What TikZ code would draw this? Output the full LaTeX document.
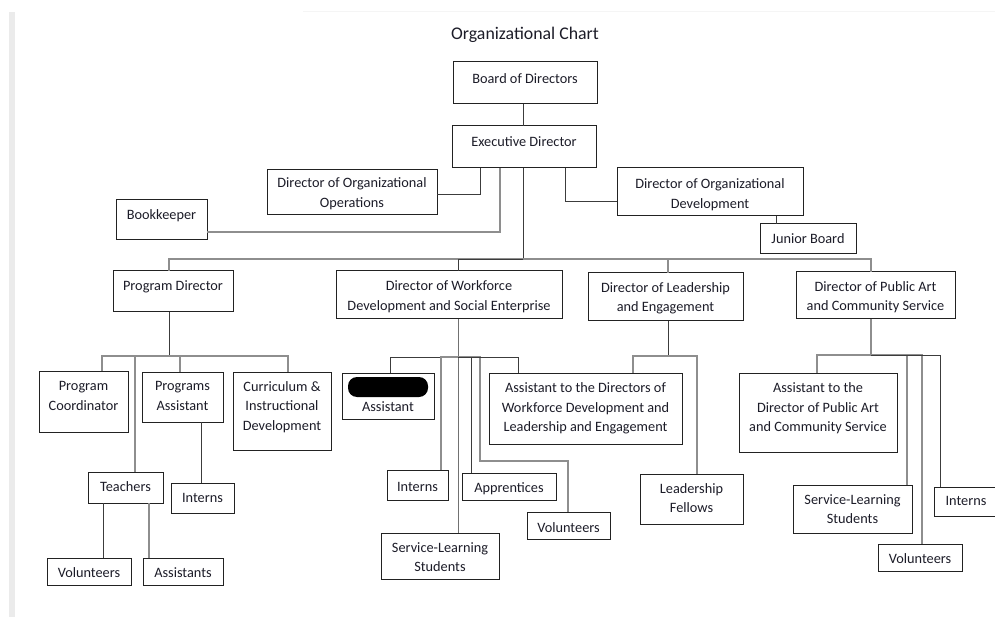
\documentclass[tikz,border=0pt]{standalone}
\usepackage{fontspec}
\setmainfont{Carlito}
\definecolor{txt}{HTML}{1C1C28}
\definecolor{dkline}{HTML}{3C3C3C}
\definecolor{ltline}{HTML}{8E8E8E}
\definecolor{boxline}{HTML}{222222}
\tikzset{
  box/.style={draw=boxline, line width=1pt, inner sep=0pt, outer sep=0pt, rectangle},
  lbl/.style={inner sep=0pt, align=center, text=txt,
              font=\fontsize{14.3}{19.5}\selectfont},
  dk/.style={draw=dkline, line width=0.9pt},
  lt/.style={draw=ltline, line width=1.3pt},
}
\newcommand{\orgbox}[7]{%
  \node[box, minimum width={(#4-#2)*1pt}, minimum height={(#5-#3)*1pt}] (#1) at ({(#2+#4)/2},{(#3+#5)/2}) {};
  \node[lbl] (#1t) at ({(#2+#4)/2},{#6+1}) {\rule{0pt}{10pt}#7\rule[-3pt]{0pt}{3pt}};}
\begin{document}
\begin{tikzpicture}[x=1pt,y=-1pt]
\useasboundingbox (0,0) rectangle (995,617);
\fill[white] (0,0) rectangle (995,617);
\fill[black!8] (9,12) rectangle (15,617);
\draw[black!4, line width=1pt] (303,12) -- (995,12);

\node[font=\fontsize{17.8}{20}\selectfont, text=txt, inner sep=0pt] (title) at (525,35) {Organizational Chart};

% top
\orgbox{bod}{453}{62}{597}{104}{79}{Board of Directors}
\orgbox{exe}{452}{126}{596}{168}{142.5}{Executive Director}
\orgbox{ops}{267}{170}{437}{215}{193}{Director of Organizational\\Operations}
\orgbox{bk}{116}{200}{207}{240}{215}{Bookkeeper}
\orgbox{dod}{617}{168}{803}{216}{194}{Director of Organizational\\Development}
\orgbox{jb}{760}{224}{856}{254}{239}{Junior Board}
% directors
\orgbox{pd}{113}{271}{233}{312}{286}{Program Director}
\orgbox{wf}{336}{271}{562}{319}{296}{Director of Workforce\\Development and Social Enterprise}
\orgbox{le}{588}{273}{743}{321}{297.5}{Director of Leadership\\and Engagement}
\orgbox{pa}{796}{272}{955}{319}{296.5}{Director of Public Art\\and Community Service}
% program director subtree
\orgbox{pc}{39}{371}{128}{432}{396}{Program\\Coordinator}
\orgbox{pas}{142}{372}{223}{422}{396}{Programs\\Assistant}
\orgbox{cid}{233}{372}{331}{450}{406}{Curriculum \&\\Instructional\\Development}
\orgbox{tea}{88}{472}{163}{503}{487}{Teachers}
\orgbox{pin}{171}{483}{234}{513}{498}{Interns}
\orgbox{tvo}{47}{558}{131}{585}{573}{Volunteers}
\orgbox{tas}{143}{558}{223}{585}{573}{Assistants}
% workforce subtree
\orgbox{wa}{342}{373}{434}{419}{407}{Assistant}
\fill[black, rounded corners=9pt] (348,377) rectangle (428,397);
\orgbox{win}{387}{470}{448}{500}{487}{Interns}
\orgbox{wap}{462}{473}{556}{500}{488}{Apprentices}
\orgbox{wvo}{527}{512}{610}{539}{528}{Volunteers}
\orgbox{wsl}{381}{533}{499}{579}{557.5}{Service-Learning\\Students}
\orgbox{atd}{489}{373}{682}{444}{407.5}{Assistant to the Directors of\\Workforce Development and\\Leadership and Engagement}
% leadership subtree
\orgbox{lf}{640}{474}{743}{524}{498.5}{Leadership\\Fellows}
% public art subtree
\orgbox{apa}{739}{373}{897}{452}{407.5}{Assistant to the\\Director of Public Art\\and Community Service}
\orgbox{psl}{793}{485}{912}{533}{509.5}{Service-Learning\\Students}
\orgbox{pvo}{878}{544}{962}{571}{559}{Volunteers}
\orgbox{pin2}{934}{487}{998}{516}{501}{Interns}

% connectors: top
\draw[dk] (bod.south -| 523,0) -- (exe.north -| 523,0);
\draw[dk] (exe.south -| 480,0) |- (ops.east |- 0,194);
\draw[lt] (exe.south -| 500,0) |- (bk.east |- 0,232);
\draw[dk] (exe.south -| 565,0) |- (dod.west |- 0,201);
\draw[dk] (dod.south -| 776,0) -- (jb.north -| 776,0);
\coordinate (hub) at (523,259);
\draw[dk] (exe.south -| 523,0) -- (hub);
\draw[lt] (hub) -| (pd.north -| 169,0);
\draw[lt] (hub) -| (le.north -| 668,0);
\draw[lt] (hub) -| (pa.north -| 871,0);
\draw[dk] (hub) -| (wf.north -| 458,0);

% program director
\coordinate (pdh) at (169,356);
\draw[dk] (pd.south -| 169,0) -- (pdh);
\draw[lt] (pdh) -| (pc.north -| 102,0);
\draw[lt] (pdh) -| (tea.north -| 135,0);
\draw[lt] (pdh) -| (pas.north -| 180,0);
\draw[lt] (pdh) -| (cid.north -| 288,0);
\draw[dk] (pas.south -| 201,0) -- (pin.north -| 201,0);
\draw[dk] (tea.south -| 103,0) -- (tvo.north -| 103,0);
\draw[lt] (tea.south -| 149,0) -- (tas.north -| 149,0);

% workforce
\coordinate (wfh) at (458,357);
\coordinate (wvb) at (480,461);
\draw[ltline!80!black, line width=1pt] (wf.south -| 458,0) -- (wsl.north -| 458,0);
\draw[dk] (wfh) -| (wa.north -| 390,0);
\draw[lt] (wfh) -| (win.north -| 441,0);
\draw[dk] (wfh) -| (wap.north -| 471,0);
\draw[lt] (wfh) -| (wvb) -| (wvo.north -| 568,0);
\draw[dk] (wfh) -| (atd.north -| 518,0);

% leadership
\coordinate (leh) at (668,356);
\draw[dk] (le.south -| 668,0) -- (leh);
\draw[lt] (leh) -| (atd.north -| 633,0);
\draw[lt] (leh) -| (lf.north -| 697,0);

% public art
\coordinate (pah) at (871,355);
\draw[lt] (pa.south -| 871,0) -- (pah);
\draw[lt] (pah) -| (apa.north -| 817,0);
\draw[lt] (pah) -| (psl.north -| 907,0);
\draw[lt] (pah) -| (pvo.north -| 922,0);
\draw[dk] (pah) -| (pin2.north -| 940,0);
\end{tikzpicture}
\end{document}
